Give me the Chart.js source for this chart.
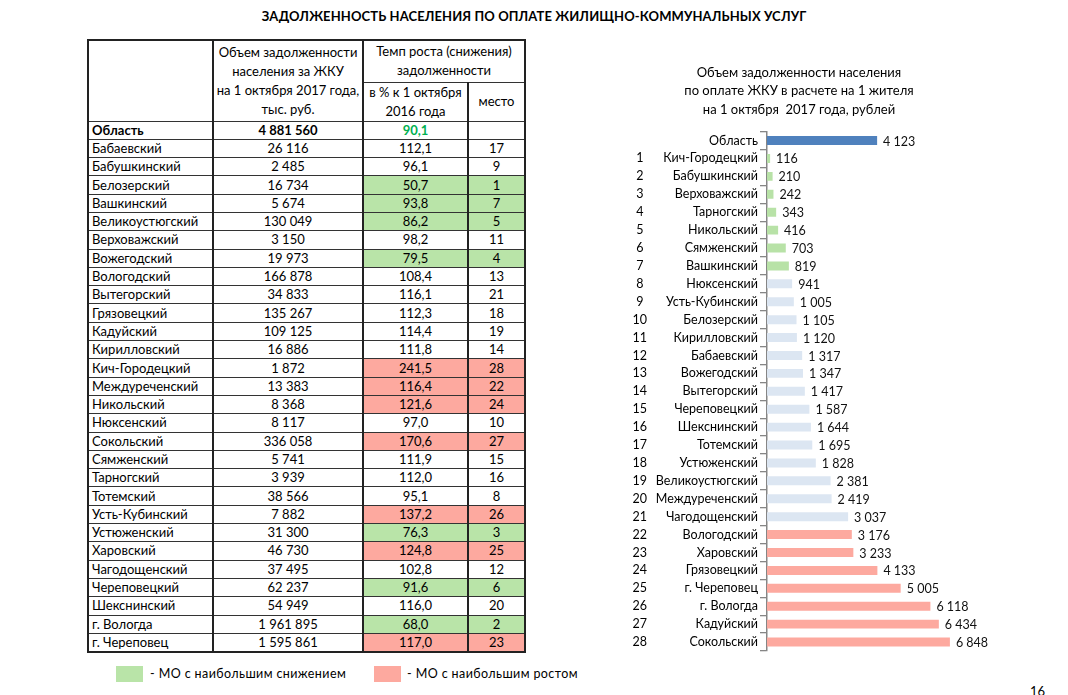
<!DOCTYPE html>
<html lang="ru">
<head>
<meta charset="utf-8">
<title>Задолженность населения по оплате ЖКУ</title>
<script src="https://cdn.jsdelivr.net/npm/chart.js@4.4.1/dist/chart.umd.min.js"></script>
<style>
  html, body { margin: 0; padding: 0; background: #fff; }
  body { width: 1068px; height: 695px; position: relative; overflow: hidden; font-family: Lato, "Open Sans", sans-serif; color: #000; }
  #mainTitle { position: absolute; left: 0; width: 1068px; top: 8px; text-align: center; font-weight: bold; font-size: 13px; letter-spacing: 0.1px; }
  table { position: absolute; left: 87px; top: 39px; border-collapse: collapse; table-layout: fixed; font-size: 13px; border: 2px solid #222; }
  td { border: 1px solid #333; padding: 0; text-align: center; white-space: nowrap; overflow: hidden; }
  td.v { border-left: 2px solid #222; border-right: 2px solid #222; }
  td.name { text-align: left; padding-left: 3px; }
  tr.data td { height: 17.3px; line-height: 17px; }
  .hdr td { line-height: 19px; }
  .green { background: #B9E4A8; }
  .red { background: #FDA99F; }
  .legend { position: absolute; top: 666px; height: 16px; width: 27px; }
  .legtext { position: absolute; top: 666px; font-size: 12.5px; letter-spacing: 0.4px; line-height: 16px; }
  #pageNo { position: absolute; left: 1030px; top: 683px; font-size: 13px; }
  #chartBox { position: absolute; left: 580px; top: 56px; width: 420px; height: 610px; }
</style>
</head>
<body>
<div id="mainTitle">ЗАДОЛЖЕННОСТЬ НАСЕЛЕНИЯ ПО ОПЛАТЕ ЖИЛИЩНО-КОММУНАЛЬНЫХ УСЛУГ</div>
<table id="tbl">
  <colgroup><col style="width:125px"><col style="width:150px"><col style="width:105px"><col style="width:57px"></colgroup>
  <tbody id="tbody">
    <tr class="hdr" style="height:42px">
      <td rowspan="2" class="v"></td>
      <td rowspan="2" class="v">Объем задолженности<br>населения за ЖКУ<br>на 1 октября 2017 года,<br>тыс. руб.</td>
      <td colspan="2" class="v">Темп роста (снижения)<br>задолженности</td>
    </tr>
    <tr class="hdr" style="height:36px">
      <td class="v">в % к 1 октября<br>2016 года</td>
      <td class="v">место</td>
    </tr>
  </tbody>
</table>
<div class="legend green" style="left:116px"></div>
<div class="legtext" style="left:150px">- МО с наибольшим снижением</div>
<div class="legend red" style="left:374px"></div>
<div class="legtext" style="left:407px">- МО с наибольшим ростом</div>
<div id="pageNo">16</div>
<div id="chartBox"><canvas id="c" width="420" height="610"></canvas></div>

<script>
// ---------- table data ----------
const tableNames = ['Область','Бабаевский','Бабушкинский','Белозерский','Вашкинский','Великоустюгский','Верховажский','Вожегодский','Вологодский','Вытегорский','Грязовецкий','Кадуйский','Кирилловский','Кич-Городецкий','Междуреченский','Никольский','Нюксенский','Сокольский','Сямженский','Тарногский','Тотемский','Усть-Кубинский','Устюженский','Харовский','Чагодощенский','Череповецкий','Шекснинский','г. Вологда','г. Череповец'];
const debtVolume = [4881560,26116,2485,16734,5674,130049,3150,19973,166878,34833,135267,109125,16886,1872,13383,8368,8117,336058,5741,3939,38566,7882,31300,46730,37495,62237,54949,1961895,1595861];
const growthRate = [90.1,112.1,96.1,50.7,93.8,86.2,98.2,79.5,108.4,116.1,112.3,114.4,111.8,241.5,116.4,121.6,97.0,170.6,111.9,112.0,95.1,137.2,76.3,124.8,102.8,91.6,116.0,68.0,117.0];
const growthRank = [null,17,9,1,7,5,11,4,13,21,18,19,14,28,22,24,10,27,15,16,8,26,3,25,12,6,20,2,23];

// ---------- chart data ----------
const chartLabels = ['Область','Кич-Городецкий','Бабушкинский','Верховажский','Тарногский','Никольский','Сямженский','Вашкинский','Нюксенский','Усть-Кубинский','Белозерский','Кирилловский','Бабаевский','Вожегодский','Вытегорский','Череповецкий','Шекснинский','Тотемский','Устюженский','Великоустюгский','Междуреченский','Чагодощенский','Вологодский','Харовский','Грязовецкий','г. Череповец','г. Вологда','Кадуйский','Сокольский'];
const perCapitaDebt = [4123,116,210,242,343,416,703,819,941,1005,1105,1120,1317,1347,1417,1587,1644,1695,1828,2381,2419,3037,3176,3233,4133,5005,6118,6434,6848];
const chartRanks = ['','1','2','3','4','5','6','7','8','9','10','11','12','13','14','15','16','17','18','19','20','21','22','23','24','25','26','27','28'];
const chartTitle = ['Объем задолженности населения','по оплате ЖКУ в расчете на 1 жителя','на 1 октября  2017 года, рублей'];

function fmtInt(n) { return String(n).replace(/\B(?=(\d{3})+(?!\d))/g, '\u00a0'); }
function fmtDec(n) { return n.toFixed(1).replace('.', ','); }

// build table rows
const tbody = document.getElementById('tbody');
tableNames.forEach((nm, i) => {
  const tr = document.createElement('tr');
  tr.className = 'data';
  const r = growthRank[i];
  const cls = r === null ? '' : (r <= 7 ? 'green' : (r >= 22 ? 'red' : ''));
  const bold = i === 0 ? 'font-weight:bold;' : '';
  tr.innerHTML =
    `<td class="v name" style="${bold}">${nm}</td>` +
    `<td class="v" style="${bold}">${fmtInt(debtVolume[i])}</td>` +
    `<td class="v ${cls}" style="${bold}${i === 0 ? 'color:#00B050;' : ''}">${fmtDec(growthRate[i])}</td>` +
    `<td class="v ${cls}">${r === null ? '' : r}</td>`;
  tbody.appendChild(tr);
});

// chart
const FONT = 'Lato, "Open Sans", sans-serif';
const barColors = perCapitaDebt.map((v, i) => i === 0 ? '#4F81BD' : (i <= 7 ? '#B8E2A7' : (i <= 21 ? '#DCE6F2' : '#FDA99F')));

const valueLabels = {
  id: 'valueLabels',
  afterDatasetsDraw(chart) {
    const ctx = chart.ctx;
    const meta = chart.getDatasetMeta(0);
    ctx.save();
    ctx.font = '12.5px ' + FONT;
    ctx.fillStyle = '#111';
    ctx.textAlign = 'left';
    ctx.textBaseline = 'middle';
    meta.data.forEach((bar, i) => {
      ctx.fillText(fmtInt(chart.data.datasets[0].data[i]), bar.x + 6, bar.y + 1);
    });
    ctx.restore();
  }
};

function draw() {
  new Chart(document.getElementById('c'), {
    type: 'bar',
    data: {
      labels: chartLabels,
      datasets: [{
        data: perCapitaDebt,
        backgroundColor: barColors,
        borderWidth: 0,
        categoryPercentage: 1,
        barPercentage: 0.5,
        yAxisID: 'y'
      }]
    },
    options: {
      indexAxis: 'y',
      responsive: false,
      animation: false,
      layout: { padding: { left: 40, right: 22, top: 0, bottom: 15 } },
      plugins: {
        legend: { display: false },
        tooltip: { enabled: false },
        title: {
          display: true,
          text: chartTitle,
          color: '#000',
          font: { family: FONT, size: 13, weight: 'normal', lineHeight: 1.4 },
          padding: { top: 8, bottom: 13 }
        }
      },
      scales: {
        x: { type: 'linear', min: 0, max: 7900, display: false },
        y: {
          type: 'category',
          position: 'left',
          weight: 0,
          grid: { display: true, drawOnChartArea: false, drawTicks: true, tickLength: 7, color: '#868686', lineWidth: 1.3, offset: true },
          border: { display: true, color: '#868686', width: 1.5 },
          ticks: { color: '#000', padding: 2, font: { family: FONT, size: 12.5 }, autoSkip: false },
          afterFit: s => { s.width = 112; }
        },
        y2: {
          type: 'category',
          labels: chartRanks,
          position: 'left',
          weight: 1,
          grid: { display: false },
          border: { display: false },
          ticks: { color: '#000', padding: 0, crossAlign: 'center', font: { family: FONT, size: 12.5 }, autoSkip: false },
          afterFit: s => { s.width = 35; }
        }
      }
    },
    plugins: [valueLabels]
  });
}
if (document.fonts && document.fonts.load) {
  document.fonts.load('13px Lato').then(draw, draw);
} else { draw(); }
</script>
</body>
</html>
